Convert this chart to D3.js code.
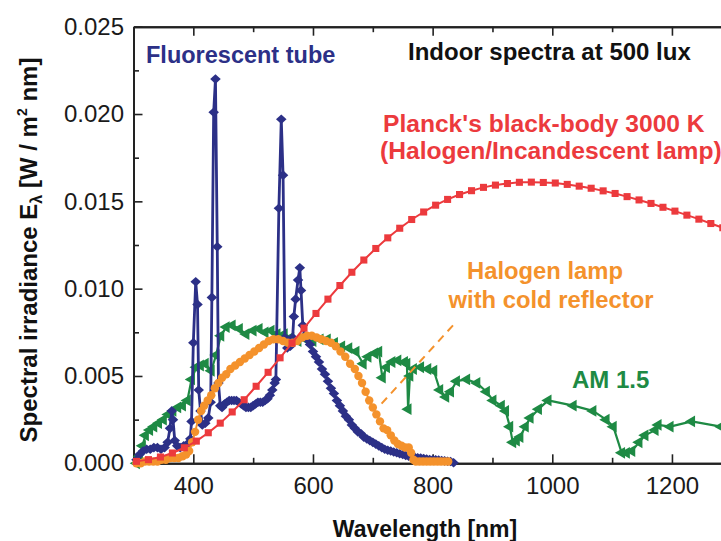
<!DOCTYPE html>
<html>
<head>
	<meta charset="utf-8">
	<title>Indoor spectra at 500 lux</title>
	<style type="text/css">
		body {
			margin: 0;
			background: #fff;
		}
		svg {
			display: block;
		}
		text {
			font-family: "Liberation Sans", Arial, Helvetica, sans-serif;
		}
	</style>
</head>
<body>
<section></section>
<script src="https://d3js.org/d3.v7.min.js"></script>
<script>

// Planck black-body 3000 K (red squares)
var planckWl = [305, 325, 345, 365, 385, 405, 425, 445, 465, 485, 505, 525, 545, 565, 585, 605, 625, 645, 665, 685,
	705, 725, 745, 765, 785, 805, 825, 845, 865, 885, 905, 925, 945, 965, 985, 1005, 1025, 1045, 1065, 1085,
	1105, 1125, 1145, 1165, 1185, 1205, 1225, 1245, 1265, 1285, 1305];
var planckVal = [0.00011, 0.00021, 0.00036, 0.00059, 0.00089, 0.00127, 0.00175, 0.00230, 0.00294, 0.00364,
	0.00441, 0.00521, 0.00604, 0.00689, 0.00774, 0.00858, 0.00940, 0.01018, 0.01094, 0.01164,
	0.01230, 0.01291, 0.01346, 0.01396, 0.01439, 0.01478, 0.01511, 0.01539, 0.01561, 0.01580,
	0.01593, 0.01602, 0.01609, 0.01610, 0.01608, 0.01605, 0.01597, 0.01587, 0.01575, 0.01560,
	0.01545, 0.01527, 0.01508, 0.01488, 0.01466, 0.01444, 0.01421, 0.01398, 0.01373, 0.01349, 0.01324];

// Fluorescent tube (navy diamonds)
var fluoWl = [305, 310, 316, 322, 328, 334, 340, 346, 352, 357, 361, 364, 366, 369, 373, 378, 384, 390, 395,
	397, 400, 404, 407, 409, 412, 415, 420, 425, 429, 431, 434, 437, 440, 442, 445,
	448, 452, 456, 460, 464, 468, 472, 476, 480, 484, 488, 492, 496, 500, 504, 508, 512, 516, 520, 524, 528, 532, 536,
	538, 543, 547, 550, 553, 557, 562, 566, 568, 571, 575, 578, 580, 583, 586, 590,
	595, 600, 605, 610, 615, 620, 625, 630, 635, 640, 645, 650, 655, 660, 665, 670, 675, 680, 685, 690, 695,
	700, 705, 710, 715, 720, 725, 730, 735, 740, 745, 750, 755, 760, 765, 770, 775, 780, 785, 790, 795,
	800, 805, 810, 815, 820, 825, 830, 835];
var fluoVal = [0.0002, 0.0005, 0.0007, 0.0008, 0.0008, 0.0009, 0.0009, 0.0008, 0.0009, 0.0012, 0.0020, 0.0030, 0.0025, 0.0013, 0.0010, 0.0009, 0.0010, 0.0011, 0.0014,
	0.0024, 0.0069, 0.0104, 0.0091, 0.0042, 0.0030, 0.0022, 0.0023, 0.0026, 0.0035, 0.0095, 0.0201, 0.0220, 0.0124, 0.0046, 0.0033,
	0.0032, 0.0034, 0.0035, 0.0036, 0.0036, 0.0036, 0.0036, 0.0035, 0.0034, 0.0033, 0.0032, 0.0032, 0.0032, 0.0033, 0.0034, 0.0035, 0.0035, 0.0035, 0.0036, 0.0037, 0.0039, 0.0042, 0.0046,
	0.0048, 0.0146, 0.0197, 0.0165, 0.0072, 0.0066, 0.0067, 0.0072, 0.0084, 0.0094, 0.0105, 0.0112, 0.0099, 0.0079, 0.0073, 0.0071,
	0.0068, 0.0064, 0.0061, 0.0058, 0.0054, 0.0051, 0.0047, 0.0043, 0.0040, 0.0036, 0.0033, 0.0030, 0.0027, 0.0025, 0.0022, 0.0020, 0.0018, 0.0017, 0.0015, 0.0014, 0.0013,
	0.0012, 0.0011, 0.0010, 0.0009, 0.0008, 0.00075, 0.0007, 0.00065, 0.0006, 0.00055, 0.0005, 0.00045, 0.0004, 0.00038, 0.00035, 0.00032, 0.0003, 0.00027, 0.00025, 0.00022,
	0.0002, 0.0002, 0.00018, 0.00016, 0.00014, 0.00012, 0.0001, 0.00003];

// Halogen lamp with cold reflector (orange circles)
var haloWl = [305, 312, 319, 326, 333, 340, 347, 354, 361, 368, 375, 382, 388, 393, 398, 403, 408, 413, 418, 424,
	430, 436, 442, 448, 455, 462, 470, 478, 486, 494, 502, 510, 518, 526, 534, 542, 550, 558, 566, 574,
	582, 590, 598, 606, 614, 622, 630, 638, 646, 654, 662, 670, 676, 682, 688, 694, 700, 706, 712, 718,
	724, 730, 736, 742, 748, 754, 760, 764, 768, 772, 778, 784, 790, 796, 802, 808, 814, 820, 826];
var haloVal = [0.0000, 0.0000, 0.0001, 0.0001, 0.0001, 0.0001, 0.0002, 0.0002, 0.0003, 0.0003, 0.0003, 0.0004, 0.0005, 0.0007, 0.0012, 0.0018, 0.0025, 0.0030, 0.0033, 0.0036,
	0.0039, 0.0043, 0.0046, 0.0049, 0.0051, 0.0054, 0.0056, 0.0058, 0.0060, 0.0062, 0.0064, 0.0066, 0.0068, 0.0070, 0.0071, 0.0071, 0.0070, 0.0069, 0.0069, 0.0070,
	0.0072, 0.0073, 0.0073, 0.0072, 0.0071, 0.0070, 0.0069, 0.0067, 0.0064, 0.0061, 0.0057, 0.0054, 0.0050, 0.0046, 0.0041, 0.0036, 0.0032, 0.0028, 0.0024, 0.0020,
	0.0019, 0.0016, 0.0013, 0.0011, 0.0010, 0.0009, 0.0009, 0.0006, 0.0002, 0.0001, 0.0001, 0.0001, 0.0001, 0.0001, 0.0001, 0.0001, 0.0001, 0.0001, 0.0001];

// AM 1.5 (green triangles)
var am15Wl = [305, 310, 315, 320, 327, 334, 342, 350, 358, 366, 374, 382, 390, 397, 405, 412, 420, 430, 438, 446,
	455, 465, 477, 488, 500, 510, 520, 530, 540, 552, 563, 575, 588, 600, 612, 624, 636, 648, 660, 672,
	684, 692, 703, 710, 716, 723, 732, 742, 753, 757, 759, 762, 768, 780, 792, 802, 812, 822, 830, 840,
	857, 874, 890, 901, 915, 922, 929, 934, 940, 946, 955, 963, 977, 993, 1035, 1068, 1090, 1102, 1116, 1124,
	1133, 1145, 1155, 1172, 1177, 1197, 1233, 1282, 1310];
var am15Val = [0.0000, 0.0004, 0.0010, 0.0016, 0.0019, 0.0021, 0.0023, 0.0025, 0.0028, 0.0030, 0.0032, 0.0033, 0.0036, 0.0048, 0.0055, 0.0056, 0.0057, 0.0053, 0.0062, 0.0073,
	0.0078, 0.0079, 0.0077, 0.0074, 0.0076, 0.0077, 0.0075, 0.0076, 0.0074, 0.0074, 0.0072, 0.0070, 0.0071, 0.0070, 0.0071, 0.0071, 0.0069, 0.0067, 0.0066, 0.0064,
	0.0057, 0.0061, 0.0063, 0.0064, 0.0049, 0.0055, 0.0058, 0.0059, 0.0058, 0.0057, 0.0031, 0.0050, 0.0054, 0.0055, 0.0054, 0.0053, 0.0042, 0.0038, 0.0041, 0.0047,
	0.0048, 0.0046, 0.0041, 0.0036, 0.0033, 0.0030, 0.0021, 0.0012, 0.0013, 0.0015, 0.0021, 0.0026, 0.0031, 0.0036, 0.0033, 0.0030, 0.0025, 0.0021, 0.0006, 0.0006,
	0.0007, 0.0012, 0.0016, 0.0019, 0.0022, 0.0021, 0.0024, 0.0021, 0.0020];

// dashed pointer from the halogen label down to its curve (wavelength, value)
var leader = [[834, 0.0079], [709, 0.0032]];

var xMajor = [400, 600, 800, 1000, 1200];
var xMinor = [500, 700, 900, 1100, 1300];
var yMajor = [0, 0.005, 0.010, 0.015, 0.020, 0.025];
var yMinor = [0.0025, 0.0075, 0.0125, 0.0175, 0.0225];

var navy = "#2c3087", red = "#ec3a3d", orange = "#f4922c", green = "#1e8a44";

var width = 721;
var height = 541;

var svg = d3.select('section').append("svg")
	.attr("width", width)
	.attr("height", height);

// plot runs past the right edge of the picture
var x = d3.scaleLinear().domain([300, 1400]).range([133.5, 791.6]);
var y = d3.scaleLinear().domain([0, 0.025]).range([463.3, 26.7]);

function styleAxis(g) {
	g.select(".domain").attr("stroke", "#222").attr("stroke-width", 2);
	g.selectAll(".tick line").attr("stroke", "#222").attr("stroke-width", 1.6);
	g.selectAll("text")
		.attr("font-family", '"Liberation Sans", Arial, Helvetica, sans-serif')
		.attr("font-size", 24)
		.attr("fill", "#1a1a1a");
}

// Axes (ticks point inward)
svg.append("g")
	.attr("transform", "translate(0," + y(0) + ")")
	.call(d3.axisBottom(x).tickValues(xMajor).tickSize(-9).tickSizeOuter(0).tickPadding(14).tickFormat(d3.format("d")))
	.call(styleAxis);
svg.append("g")
	.attr("transform", "translate(0," + y(0) + ")")
	.call(d3.axisBottom(x).tickValues(xMinor).tickSize(-5.5).tickSizeOuter(0).tickFormat(""))
	.call(styleAxis);
svg.append("g")
	.attr("transform", "translate(0," + y(0.025) + ")")
	.call(d3.axisTop(x).tickValues(xMajor).tickSize(-9).tickSizeOuter(0).tickFormat(""))
	.call(styleAxis);
svg.append("g")
	.attr("transform", "translate(0," + y(0.025) + ")")
	.call(d3.axisTop(x).tickValues(xMinor).tickSize(-5.5).tickSizeOuter(0).tickFormat(""))
	.call(styleAxis);
svg.append("g")
	.attr("transform", "translate(" + x(300) + ",0)")
	.call(d3.axisLeft(y).tickValues(yMajor).tickSize(-9).tickSizeOuter(0).tickPadding(9.5).tickFormat(d3.format(".3f")))
	.call(styleAxis);
svg.append("g")
	.attr("transform", "translate(" + x(300) + ",0)")
	.call(d3.axisLeft(y).tickValues(yMinor).tickSize(-5.5).tickSizeOuter(0).tickFormat(""))
	.call(styleAxis);

// diamond drawn as a square turned 45 degrees
var diamond = {
	draw: function(context, size) {
		var r = Math.sqrt(size / 2);
		context.moveTo(0, -r);
		context.lineTo(r * 1.1, 0);
		context.lineTo(0, r);
		context.lineTo(-r * 1.1, 0);
		context.closePath();
	}
};

var line = d3.line()
	.x(function(d) { return x(d[0]); })
	.y(function(d) { return y(d[1]); });

function drawSeries(data, color, lineWidth, symbolType, size, rotate) {
	var g = svg.append("g");
	g.append("path")
		.datum(data)
		.attr("fill", "none")
		.attr("stroke", color)
		.attr("stroke-width", lineWidth)
		.attr("stroke-linejoin", "round")
		.attr("d", line);
	g.selectAll("path.marker")
		.data(data)
		.join("path")
			.attr("class", "marker")
			.attr("fill", color)
			.attr("transform", function(d) { return "translate(" + x(d[0]) + "," + y(d[1]) + ") rotate(" + rotate + ")"; })
			.attr("d", d3.symbol().type(symbolType).size(size));
}

drawSeries(d3.zip(am15Wl, am15Val), green, 2.2, d3.symbolTriangle, 60, -90);
drawSeries(d3.zip(fluoWl, fluoVal), navy, 2.8, diamond, 46, 0);
drawSeries(d3.zip(haloWl, haloVal), orange, 2, d3.symbolCircle, 56, 0);
drawSeries(d3.zip(planckWl, planckVal), red, 2, d3.symbolSquare, 50, 0);

// Leader line for the halogen label
svg.append("path")
	.datum(leader)
	.attr("fill", "none")
	.attr("stroke", orange)
	.attr("stroke-width", 2)
	.attr("stroke-dasharray", "8,6")
	.attr("d", line);

// Labels
var labels = svg.append("g")
	.attr("font-weight", "bold");

labels.append("text")
	.attr("x", 146).attr("y", 63)
	.attr("font-size", 23.5)
	.attr("fill", navy)
	.text("Fluorescent tube");
labels.append("text")
	.attr("x", 408).attr("y", 59.5)
	.attr("font-size", 24)
	.attr("fill", "#111")
	.text("Indoor spectra at 500 lux");
labels.append("text")
	.attr("x", 383).attr("y", 131.5)
	.attr("font-size", 24.6)
	.attr("fill", red)
	.text("Planck's black-body 3000 K");
labels.append("text")
	.attr("x", 380).attr("y", 158.5)
	.attr("font-size", 24.6)
	.attr("fill", red)
	.text("(Halogen/Incandescent lamp)");
labels.append("text")
	.attr("x", 545).attr("y", 279)
	.attr("text-anchor", "middle")
	.attr("font-size", 23.8)
	.attr("fill", orange)
	.text("Halogen lamp");
labels.append("text")
	.attr("x", 551).attr("y", 308)
	.attr("text-anchor", "middle")
	.attr("font-size", 23.8)
	.attr("fill", orange)
	.text("with cold reflector");
labels.append("text")
	.attr("x", 572).attr("y", 388)
	.attr("font-size", 24)
	.attr("fill", green)
	.text("AM 1.5");

// Axis titles
labels.append("text")
	.attr("x", 425).attr("y", 537)
	.attr("text-anchor", "middle")
	.attr("font-size", 23)
	.attr("fill", "#111")
	.text("Wavelength [nm]");

var ylab = labels.append("text")
	.attr("transform", "translate(37,250) rotate(-90)")
	.attr("text-anchor", "middle")
	.attr("font-size", 24)
	.attr("fill", "#111");
ylab.append("tspan").text("Spectral irradiance E");
ylab.append("tspan").attr("font-size", 16).attr("dy", 5).text("\u03bb");
ylab.append("tspan").attr("dy", -5).text(" [W / m");
ylab.append("tspan").attr("font-size", 14).attr("dy", -10).text("2");
ylab.append("tspan").attr("dy", 10).text(" nm]");

</script>
</body>
</html>
